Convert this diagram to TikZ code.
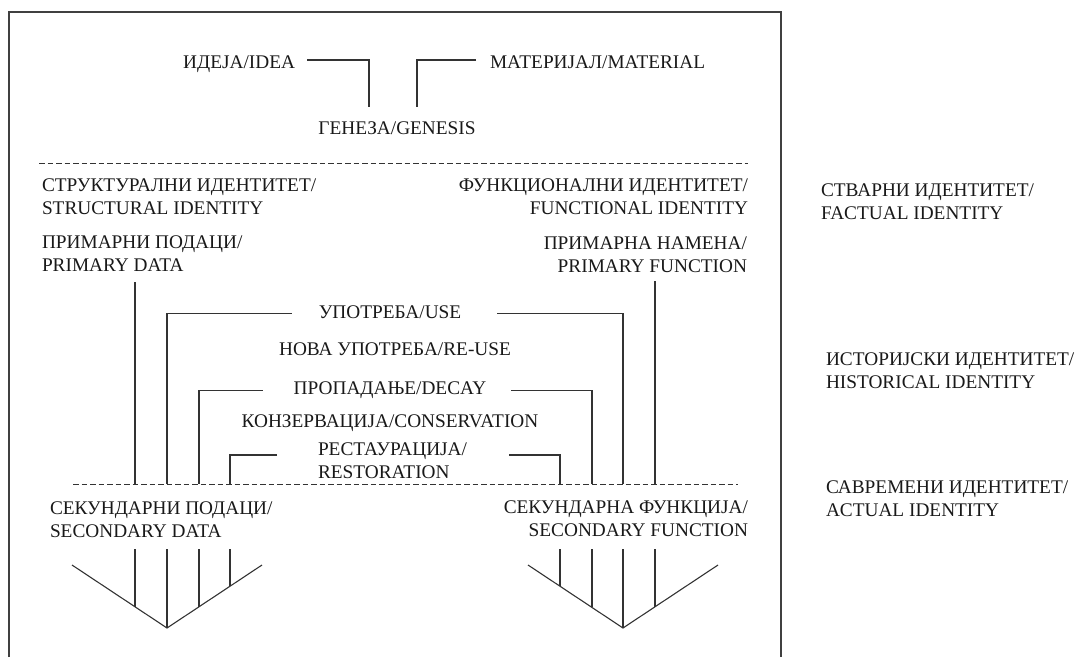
\documentclass[tikz,border=0pt]{standalone}
\usepackage{fontspec}
\setmainfont{Liberation Serif}
\usetikzlibrary{calc}
\begin{document}
\begin{tikzpicture}[x=1pt,y=-1pt,
  lbl/.style={inner sep=0pt, outer sep=0pt, text=black!90, font=\fontsize{19.3}{23}\selectfont},
  conn/.style={line width=1.1pt, draw=black!80},
  frameline/.style={line width=1.1pt, draw=black!75},
  sepline/.style={line width=1pt, draw=black!80, dash pattern=on 5.5pt off 3pt}]
\useasboundingbox (0,0) rectangle (1078,657);
% frame
\draw[frameline] (9,657) -- (9,12) -- (781,12) -- (781,657);
% separators
\draw[sepline] (39,163) -- (748,163);
\draw[sepline] (73,484) -- (738,484);
% genesis
\node[lbl, anchor=base east] (idea) at (295,68.5) {ИДЕЈА/IDEA};
\node[lbl, anchor=base west] (mat) at (490,68.5) {МАТЕРИЈАЛ/MATERIAL};
\node[lbl, anchor=base] (gen) at (397,134.5) {ГЕНЕЗА/GENESIS};
\coordinate (ideaEnd) at (369,107);
\coordinate (matEnd) at (417,107);
\draw[conn] ([shift={(12pt,8.5pt)}]idea.base east) -| (ideaEnd);
\draw[conn] ([shift={(-14pt,8.5pt)}]mat.base west) -| (matEnd);
% factual identity (base = baseline of the last line)
\node[lbl, anchor=base west, align=left] (struct) at (42,214.4) {СТРУКТУРАЛНИ ИДЕНТИТЕТ/\\STRUCTURAL IDENTITY};
\node[lbl, anchor=base east, align=right] (func) at (748,214.4) {ФУНКЦИОНАЛНИ ИДЕНТИТЕТ/\\FUNCTIONAL IDENTITY};
\node[lbl, anchor=base west, align=left] (pdata) at (42,271.6) {ПРИМАРНИ ПОДАЦИ/\\PRIMARY DATA};
\node[lbl, anchor=base east, align=right] (pfunc) at (747,272.4) {ПРИМАРНА НАМЕНА/\\PRIMARY FUNCTION};
% right column
\node[lbl, anchor=base west, align=left] (fact) at (821,219.5) {СТВАРНИ ИДЕНТИТЕТ/\\FACTUAL IDENTITY};
\node[lbl, anchor=base west, align=left] (hist) at (826,388) {ИСТОРИЈСКИ ИДЕНТИТЕТ/\\HISTORICAL IDENTITY};
\node[lbl, anchor=base west, align=left] (act) at (826,516.4) {САВРЕМЕНИ ИДЕНТИТЕТ/\\ACTUAL IDENTITY};
% historical
\node[lbl, anchor=base] (use) at (390,318.4) {УПОТРЕБА/USE};
\node[lbl, anchor=base] (reuse) at (395,355.4) {НОВА УПОТРЕБА/RE-USE};
\node[lbl, anchor=base] (decay) at (390,394.2) {ПРОПАДАЊЕ/DECAY};
\node[lbl, anchor=base] (cons) at (390,427.4) {КОНЗЕРВАЦИЈА/CONSERVATION};
\node[lbl, anchor=base west, align=left] (rest) at (318,478) {РЕСТАУРАЦИЈА/\\RESTORATION};
% secondary
\node[lbl, anchor=base west, align=left] (sdata) at (50,537.4) {СЕКУНДАРНИ ПОДАЦИ/\\SECONDARY DATA};
\node[lbl, anchor=base east, align=right] (sfunc) at (748,536.4) {СЕКУНДАРНА ФУНКЦИЈА/\\SECONDARY FUNCTION};
% points on the lower separator
\coordinate (bL1) at (135,484);
\coordinate (bL2) at (167,484);
\coordinate (bL3) at (199,484);
\coordinate (bL4) at (230,484);
\coordinate (bR4) at (560,484);
\coordinate (bR3) at (592,484);
\coordinate (bR2) at (623,484);
\coordinate (bR1) at (655,484);
\coordinate (pdTop) at (135,282);
\coordinate (pfTop) at (655,281);
% connectors
\draw[conn] (pdTop) -- (bL1);
\draw[conn] (pfTop) -- (bR1);
\draw[conn] ([shift={(-27pt,5pt)}]use.base west) -| (bL2);
\draw[conn] ([shift={(36pt,5pt)}]use.base east) -| (bR2);
\draw[conn] ([shift={(-31pt,3.3pt)}]decay.base west) -| (bL3);
\draw[conn] ([shift={(25pt,3.3pt)}]decay.base east) -| (bR3);
\draw[conn] ([shift={(-41pt,23pt)}]rest.base west) -| (bL4);
\draw[conn] ([shift={(42pt,23pt)}]rest.base east) -| (bR4);
% left fan
\draw[conn] (72,565) -- (167,628) -- (262,565);
\draw[conn] (135,549) -- (135,606.8);
\draw[conn] (167,549) -- (167,628);
\draw[conn] (199,549) -- (199,606.8);
\draw[conn] (230,549) -- (230,586.2);
% right fan
\draw[conn] (528,565) -- (623,628) -- (718,565);
\draw[conn] (560,549) -- (560,586.2);
\draw[conn] (592,549) -- (592,607.4);
\draw[conn] (623,549) -- (623,628);
\draw[conn] (655,549) -- (655,606.8);
\end{tikzpicture}
\end{document}
